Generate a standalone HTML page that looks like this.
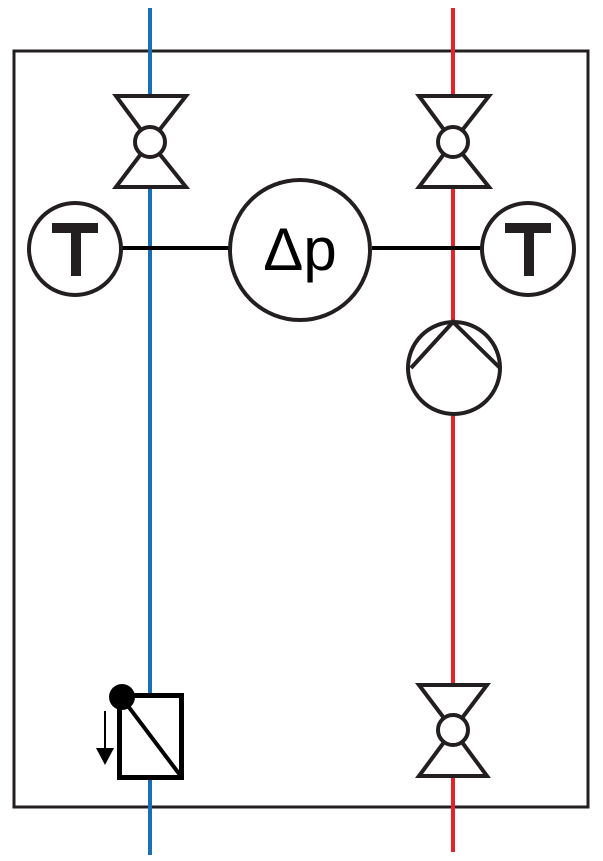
<!DOCTYPE html>
<html><head><style>html,body{margin:0;padding:0;background:#fff}svg{display:block}</style></head>
<body>
<svg width="603" height="861" viewBox="0 0 603 861" xmlns="http://www.w3.org/2000/svg">
<rect x="14" y="51" width="574" height="756" fill="none" stroke="#231f20" stroke-width="3"/>
<line x1="150" y1="8" x2="150" y2="855" stroke="#1a6fb5" stroke-width="4"/>
<line x1="453" y1="8" x2="453" y2="852" stroke="#e3242b" stroke-width="4"/>
<g fill="#fff" stroke="#231f20" stroke-width="4">
<!-- top valves -->
<path d="M116 96 L186 96 L150 142 Z M116 187 L186 187 L150 142 Z"/>
<circle cx="150" cy="142" r="15"/>
<path d="M419 96 L489 96 L453 142 Z M419 187 L489 187 L453 142 Z"/>
<circle cx="453" cy="142" r="15"/>
<!-- bottom valve -->
<path d="M419 685 L487 685 L453 730 Z M419 776 L487 776 L453 730 Z"/>
<circle cx="453" cy="730" r="15"/>
</g>
<g stroke="#000" stroke-width="4">
<line x1="121" y1="248" x2="231" y2="248"/>
<line x1="372" y1="248" x2="482" y2="248"/>
</g>
<g fill="#fff" stroke="#231f20" stroke-width="4">
<ellipse cx="75" cy="249" rx="46" ry="46"/>
<ellipse cx="528" cy="249" rx="46" ry="46"/>
<circle cx="300" cy="250" r="70"/>
<circle cx="454" cy="368" r="46"/>
</g>
<path d="M411 368 L453 322 L500 368" fill="none" stroke="#231f20" stroke-width="4"/>
<g fill="#231f20">
<rect x="52" y="223" width="46" height="10"/>
<rect x="71" y="223" width="10" height="53"/>
<rect x="505" y="223" width="46" height="10"/>
<rect x="524" y="223" width="10" height="53"/>
</g>
<text x="300" y="270" text-anchor="middle" font-family="Liberation Sans, sans-serif" font-size="60" fill="#000">Δp</text>
<!-- bottom left component -->
<rect x="119.5" y="695.5" width="62" height="82" fill="#fff" stroke="#000" stroke-width="5"/>
<line x1="122" y1="698" x2="180" y2="775" stroke="#000" stroke-width="4"/>
<circle cx="122" cy="697" r="13" fill="#000"/>
<line x1="105" y1="711" x2="105" y2="750" stroke="#000" stroke-width="2"/>
<path d="M96 748 L114 748 L105 765 Z" fill="#000"/>
</svg>
</body></html>
